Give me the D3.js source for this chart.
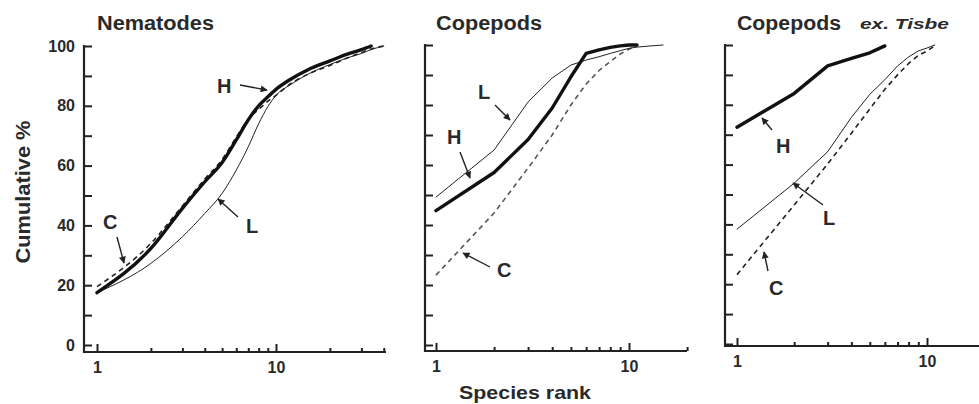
<!DOCTYPE html>
<html>
<head>
<meta charset="utf-8">
<script src="https://cdn.jsdelivr.net/npm/d3@7"></script>
<style>
  body { margin: 0; background: #fff; }
  text { font-family: "Liberation Sans", Arial, sans-serif; font-weight: bold; fill: #2a2a2a; }
</style>
</head>
<body>
<div id="chart-area"></div>
<script>
// Nematodes
const nemRankH = [1, 2, 3, 4, 5, 6, 7, 8, 9, 10, 12, 15, 20, 25, 30, 34];
const nemH = [17.5, 32.3, 45.7, 54.6, 61, 68.6, 75.3, 80, 83, 85.5, 88.8, 92, 95, 97.3, 98.8, 100];
const nemRank = [1, 2, 3, 4, 5, 6, 7, 8, 9, 10, 12, 15, 20, 25, 30, 34, 40];
const nemC = [19.5, 34, 46.5, 55.5, 62, 69.5, 75.5, 78.8, 81.5, 83.5, 87.3, 90.5, 93.5, 96, 97.8, 99, 100];
const nemL = [17.5, 27.3, 36.2, 44, 50.7, 58.5, 66.3, 74, 79.7, 83.5, 87, 90.5, 93.8, 96, 97.5, 98.8, 100];

// Copepods
const copRank = [1, 2, 3, 4, 5, 6, 7, 8, 9, 10, 11];
const copH = [44.8, 57.5, 68.5, 79, 89.4, 97.2, 98.4, 99.2, 99.7, 100, 100];
const copC = [23.3, 44, 59, 70, 80, 87, 91.5, 94.5, 97, 98.6, 99.7];
const copRankL = [1, 2, 3, 4, 5, 6, 7, 8, 9, 10, 11, 13, 15];
const copL = [49.3, 65, 81, 89, 93.3, 95, 96.1, 97.2, 98.1, 98.9, 99.3, 99.7, 100];

// Copepods ex. Tisbe
const exRankH = [1, 2, 3, 4, 5, 6];
const exH = [72.5, 83.8, 93, 95.5, 97.4, 99.7];
const exRank = [1, 2, 3, 4, 5, 6, 7, 8, 9, 10, 11];
const exL = [38.4, 53.8, 64.3, 75.8, 83.5, 88.4, 93, 96, 98, 99, 100];
const exC = [23.2, 46.5, 60.2, 70.5, 78.6, 85.2, 90, 93.8, 96.5, 98, 99.7];

const yTicks = d3.range(0, 101, 10);
const xTicks = [1, 2, 3, 4, 5, 6, 7, 8, 9, 10, 20, 30, 40];

const width = 979, height = 404;
const svg = d3.select('#chart-area').append('svg')
  .attr('width', width)
  .attr('height', height);

svg.append('defs').append('marker')
  .attr('id', 'arr')
  .attr('viewBox', '0 0 10 10')
  .attr('refX', 9).attr('refY', 5)
  .attr('markerWidth', 8).attr('markerHeight', 7)
  .attr('markerUnits', 'userSpaceOnUse')
  .attr('orient', 'auto')
  .append('path').attr('d', 'M0,0L10,5L0,10z').attr('fill', '#222');

const panels = [
  {
    title: 'Nematodes', titleLen: 117, axisX: 84, x1: 97, dec: 179, xEnd: 386, axisY: 352, y0: 345, y100: 46,
    showY: true, curve: d3.curveMonotoneX, cColor: '#222',
    series: [
      {k: 'C', r: nemRank, v: nemC},
      {k: 'L', r: nemRank, v: nemL},
      {k: 'H', r: nemRankH, v: nemH}
    ],
    notes: [
      {t: 'H', x: 217, y: 93, a: [240, 85, 267, 90]},
      {t: 'L', x: 246, y: 233, a: [238, 217, 218, 199]},
      {t: 'C', x: 103, y: 229, a: [117, 237, 124, 263]}
    ]
  },
  {
    title: 'Copepods', titleLen: 106, axisX: 425, x1: 436, dec: 193, xEnd: 687, axisY: 351, y0: 345, y100: 45,
    showY: false, curve: d3.curveLinear, cColor: '#555',
    series: [
      {k: 'C', r: copRank, v: copC},
      {k: 'L', r: copRankL, v: copL},
      {k: 'H', r: copRank, v: copH}
    ],
    notes: [
      {t: 'L', x: 478, y: 99, a: [495, 105, 510, 120]},
      {t: 'H', x: 447, y: 144, a: [460, 152, 470, 178]},
      {t: 'C', x: 497, y: 277, a: [490, 267, 463, 253]}
    ]
  },
  {
    title: 'Copepods', titleLen: 104, axisX: 725, x1: 737, dec: 190, xEnd: 990, axisY: 346, y0: 344, y100: 45,
    showY: false, curve: d3.curveLinear, cColor: '#222',
    series: [
      {k: 'C', r: exRank, v: exC},
      {k: 'L', r: exRank, v: exL},
      {k: 'H', r: exRankH, v: exH}
    ],
    notes: [
      {t: 'H', x: 776, y: 153, a: [772, 130, 762, 118]},
      {t: 'L', x: 823, y: 225, a: [823, 205, 793, 183]},
      {t: 'C', x: 769, y: 295, a: [768, 271, 764, 252]}
    ]
  }
];

panels.forEach(p => {
  const x = d3.scaleLog().domain([1, 10]).range([p.x1, p.x1 + p.dec]);
  const y = d3.scaleLinear().domain([0, 100]).range([p.y0, p.y100]);
  const g = svg.append('g');

  // y axis, ticks pointing inward
  const yAxis = d3.axisLeft(y).tickValues(yTicks).tickSizeInner(-8).tickSizeOuter(0).tickPadding(9)
    .tickFormat(d => p.showY && d % 20 === 0 ? d : '');
  const ya = g.append('g').attr('transform', `translate(${p.axisX},0)`).call(yAxis);
  ya.select('.domain').remove();
  ya.selectAll('line').attr('stroke', '#222').attr('stroke-width', 2);
  ya.selectAll('text').style('font-size', '16px');
  g.append('line').attr('x1', p.axisX).attr('x2', p.axisX).attr('y1', y(100) - 1).attr('y2', p.axisY + 1)
    .attr('stroke', '#222').attr('stroke-width', 2.2);

  // x axis, log ticks pointing up
  const ticks = xTicks.filter(t => x(t) <= p.xEnd + 1);
  const xa = g.append('g').attr('transform', `translate(0,${p.axisY})`)
    .call(d3.axisBottom(x).tickValues(ticks).tickSizeInner(0).tickSizeOuter(0).tickPadding(10)
      .tickFormat(d => (d === 1 || d === 10) ? d : ''));
  xa.select('.domain').remove();
  xa.selectAll('line').attr('stroke', '#222').attr('stroke-width', 2)
    .attr('y2', d => (d === 1 || d === 10) ? -8 : -4);
  xa.selectAll('text').style('font-size', '16px');
  g.append('line').attr('x1', p.axisX - 1).attr('x2', p.xEnd).attr('y1', p.axisY).attr('y2', p.axisY)
    .attr('stroke', '#222').attr('stroke-width', 2.2);

  // curves
  const line = d3.line().x(d => x(d[0])).y(d => y(d[1])).curve(p.curve);
  p.series.forEach(s => {
    const pts = s.r.map((r, i) => [r, s.v[i]]);
    const path = g.append('path').datum(pts).attr('d', line).attr('fill', 'none')
      .attr('stroke-linejoin', 'round').attr('stroke-linecap', 'round');
    if (s.k === 'H') path.attr('stroke', '#111').attr('stroke-width', 3.4);
    if (s.k === 'L') path.attr('stroke', '#222').attr('stroke-width', 1);
    if (s.k === 'C') path.attr('stroke', p.cColor).attr('stroke-width', 1.6)
      .attr('stroke-dasharray', '5,4').attr('stroke-linecap', 'butt');
  });

  // annotations
  p.notes.forEach(n => {
    g.append('text').attr('x', n.x).attr('y', n.y).style('font-size', '20px').text(n.t);
    g.append('line').attr('x1', n.a[0]).attr('y1', n.a[1]).attr('x2', n.a[2]).attr('y2', n.a[3])
      .attr('stroke', '#222').attr('stroke-width', 1.4).attr('marker-end', 'url(#arr)');
  });

  g.append('text').attr('x', p.x1).attr('y', 30).style('font-size', '20px')
    .attr('textLength', p.titleLen).attr('lengthAdjust', 'spacingAndGlyphs').text(p.title);
});

svg.append('text').attr('x', 860).attr('y', 29).style('font-size', '15px').style('font-style', 'italic')
  .attr('textLength', 89).attr('lengthAdjust', 'spacingAndGlyphs').text('ex. Tisbe');

svg.append('text').attr('transform', 'translate(30,192) rotate(-90)').attr('text-anchor', 'middle')
  .style('font-size', '20px').attr('textLength', 143).attr('lengthAdjust', 'spacingAndGlyphs').text('Cumulative %');

svg.append('text').attr('x', 525).attr('y', 399).attr('text-anchor', 'middle')
  .style('font-size', '19px').attr('textLength', 132).attr('lengthAdjust', 'spacingAndGlyphs').text('Species rank');
</script>
</body>
</html>
